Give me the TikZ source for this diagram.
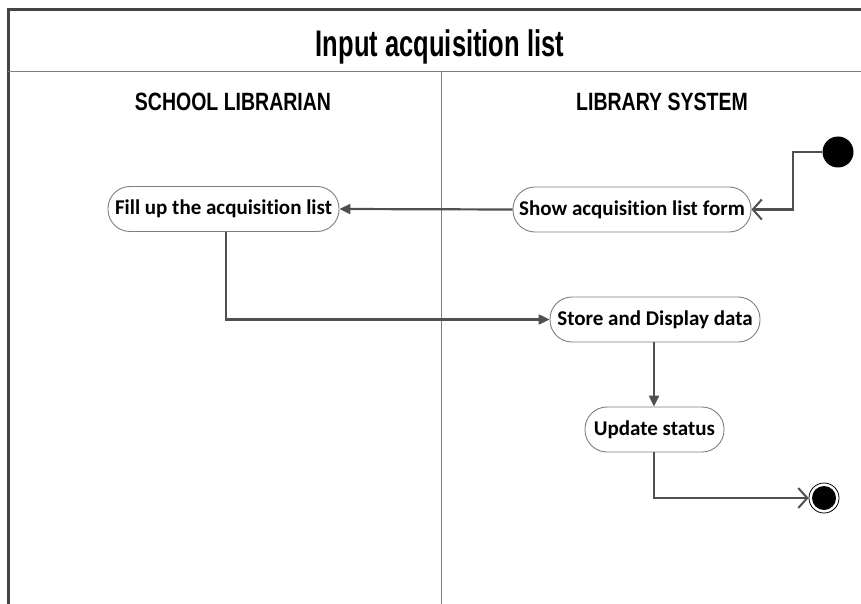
\documentclass[tikz,border=0pt]{standalone}
\usepackage{fontspec}
\setmainfont{Liberation Sans}
\newfontfamily\nodefont[Ligatures=NoCommon]{Carlito}
\usetikzlibrary{arrows.meta}
\definecolor{linegray}{HTML}{505050}
\definecolor{bordergray}{HTML}{444444}
\definecolor{thingray}{HTML}{7F7F7F}
\tikzset{
  action/.style={draw=thingray, line width=0.9pt, rounded corners=22pt, fill=white,
    minimum height=45pt, inner xsep=5pt, font=\nodefont\bfseries\fontsize{21}{24}\selectfont},
  flow/.style={draw=linegray, line width=2.2pt},
  filledtip/.style={-{Triangle[length=11pt,width=10pt]}},
  opentip/.style={-{Straight Barb[length=9pt,width=20pt,line width=2pt]}},
  lanehead/.style={font=\bfseries\fontsize{25}{28}\selectfont, xscale=0.78, anchor=base},
}
\begin{document}
\begin{tikzpicture}[x=1pt,y=-1pt]
\useasboundingbox (0,0) rectangle (861,604);
% frame
\draw[bordergray, line width=3pt] (8,604) -- (8,9.5) -- (861,9.5);
\draw[thingray, line width=1pt] (8,72) -- (861,72);
\draw[thingray, line width=1pt] (441,72) -- (441,604);
% titles
\node[font=\bfseries\fontsize{37}{40}\selectfont, xscale=0.69, anchor=base] (title) at (440,57) {Input acquisition list};
\node[lanehead] (lane1) at (233,111) {SCHOOL LIBRARIAN};
\node[lanehead] (lane2) at (662,111) {LIBRARY SYSTEM};
% nodes
\node[circle, fill=black, minimum size=31pt, inner sep=0pt] (init) at (838,152) {};
\node[action, minimum width=238pt] (show) at (632,209.5) {Show acquisition list form};
\node[action, minimum width=231pt] (fill) at (223.5,209) {Fill up the acquisition list};
\node[action, minimum width=210pt] (store) at (655,319.5) {Store and Display data};
\node[action, minimum width=139pt] (update) at (654.5,429.5) {Update status};
\node[circle, draw=black, line width=0.8pt, fill=white, minimum size=30pt, inner sep=0pt] (final) at (824,498) {};
\node[circle, fill=black, minimum size=24pt, inner sep=0pt] at (final) {};
% flows
\draw[flow, opentip] (init.west) -- (793,152) -- (793,209.5) -- (show.east);
\draw[flow, filledtip] (show.west) -- (fill.east);
\draw[flow, filledtip] (fill.south -| 226,0) -- (226,319.5) -- (store.west);
\draw[flow, filledtip] (store.south -| 654,0) -- (update.north -| 654,0);
\draw[flow, opentip] (update.south -| 654,0) -- (654,498) -- (final.west);
\end{tikzpicture}
\end{document}
